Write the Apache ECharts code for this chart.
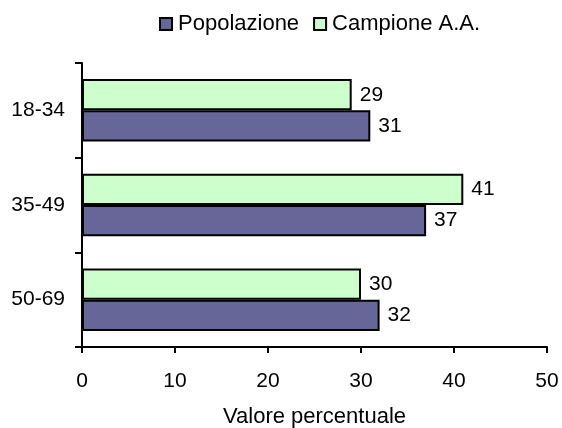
<!DOCTYPE html>
<html><head><meta charset="utf-8">
<script src="https://cdn.jsdelivr.net/npm/echarts@6/dist/echarts.min.js"></script>
<style>html,body{margin:0;padding:0;background:#fff}#c{width:562px;height:428px}</style>
</head><body><div id="c"></div>
<script>
const categories = ['50-69', '35-49', '18-34'];
const popolazione = [32, 37, 31];
const campione = [30, 41, 29];
const xTicks = [0, 10, 20, 30, 40, 50];

const chart = echarts.init(document.getElementById('c'), null, {renderer: 'canvas'});
const font = 'Liberation Sans, Arial, sans-serif';
const lbl = {show: true, position: 'right', distance: 8, color: '#000', fontSize: 21, fontFamily: font};
chart.setOption({
  animation: false,
  legend: {
    left: 159, top: 13, padding: 0,
    itemWidth: 12, itemHeight: 12, itemGap: 14,
    itemStyle: {borderColor: '#000', borderWidth: 2},
    textStyle: {fontSize: 22, fontFamily: font, color: '#000', padding: [0, 0, 0, 1]},
    data: [{name: 'Popolazione', icon: 'rect'}, {name: 'Campione A.A.', icon: 'rect'}]
  },
  grid: {left: 82, right: 15, top: 63, bottom: 81, containLabel: false, outerBoundsMode: 'none'},
  xAxis: {
    type: 'value', min: xTicks[0], max: xTicks[xTicks.length - 1], interval: 10,
    name: 'Valore percentuale', nameLocation: 'middle', nameGap: 59,
    nameTextStyle: {fontSize: 22, fontFamily: font, color: '#000'},
    axisLine: {show: true, lineStyle: {color: '#000', width: 2}},
    axisTick: {show: true, length: 6, lineStyle: {color: '#000', width: 2}},
    axisLabel: {fontSize: 21, fontFamily: font, color: '#000', margin: 24},
    splitLine: {show: false}
  },
  yAxis: {
    type: 'category', data: categories,
    axisLine: {show: true, lineStyle: {color: '#000', width: 2}},
    axisTick: {show: true, length: 7, lineStyle: {color: '#000', width: 2}},
    axisLabel: {fontSize: 21, fontFamily: font, color: '#000', margin: 17}
  },
  series: [
    {name: 'Campione A.A.', type: 'bar', data: campione, barGap: '0%', barCategoryGap: '34%',
     itemStyle: {color: '#CCFFCC', borderColor: '#000', borderWidth: 2}, label: lbl},
    {name: 'Popolazione', type: 'bar', data: popolazione, barGap: '0%', barCategoryGap: '34%',
     itemStyle: {color: '#666699', borderColor: '#000', borderWidth: 2}, label: lbl}
  ]
});
</script></body></html>
